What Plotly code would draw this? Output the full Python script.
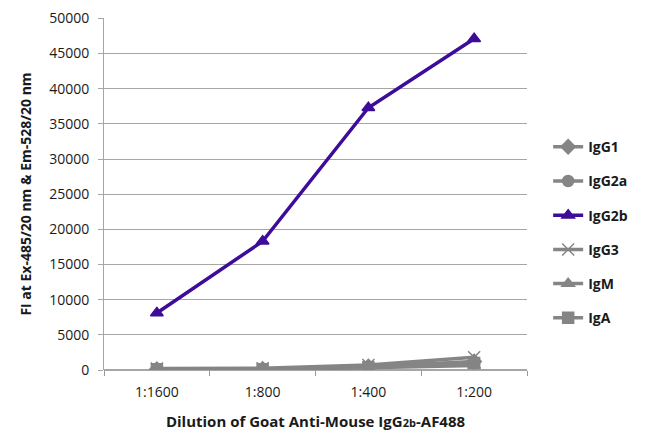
import plotly.graph_objects as go

# dilutions (x categories)
DILUTIONS = ["1:1600", "1:800", "1:400", "1:200"]

# fluorescence intensity per isotype
IGG1 = [120, 150, 500, 1200]
IGG2A = [100, 130, 420, 950]
IGG2B = [8100, 18300, 37300, 47100]
IGG3 = [220, 260, 700, 1800]
IGM = [60, 90, 320, 650]
IGA = [90, 110, 380, 1000]

GRAY = "#858585"
PURPLE = "#3D0C99"

series = [
    ("IgG1", IGG1, GRAY, "diamond"),
    ("IgG2a", IGG2A, GRAY, "circle"),
    ("IgG2b", IGG2B, PURPLE, "triangle-up"),
    ("IgG3", IGG3, GRAY, "x-thin"),
    ("IgM", IGM, GRAY, "triangle-up"),
    ("IgA", IGA, GRAY, "square"),
]

fig = go.Figure()
for name, vals, col, sym in series:
    fig.add_scatter(
        x=DILUTIONS, y=vals, name=name, mode="lines+markers", legendgroup=name,
        line=dict(color=col, width=3.5),
        marker=dict(symbol=sym, size=11 if sym != "x-thin" else 12, color=col,
                    line=dict(color=col, width=1.5)),
    )

fig.update_layout(
    width=650, height=447,
    plot_bgcolor="white", paper_bgcolor="white",
    margin=dict(l=96, r=131, t=10, b=85, autoexpand=False),
    font=dict(family="Open Sans, sans-serif", color="#1a1a1a"),
    legend=dict(
        x=1.05, y=0.39, xanchor="left", yanchor="middle",
        font=dict(size=14, color="#1a1a1a", family="Open Sans, sans-serif", weight="bold"),
        tracegroupgap=13, itemwidth=30,
    ),
    xaxis=dict(
        range=[-0.5, len(DILUTIONS) - 0.5],
        showgrid=False, showline=False, tickson="boundaries", automargin=False,
        ticks="outside", ticklen=5, tickcolor="#999999",
        tickfont=dict(size=14), ticklabelstandoff=12,
        title=dict(text='<b>Dilution of Goat Anti-Mouse IgG<span style="font-size:11px">2b</span>-AF488</b>',
                   font=dict(size=15), standoff=16),
    ),
    yaxis=dict(
        range=[0, 50060], tick0=0, dtick=5000, showgrid=True, gridcolor="#a6a6a6", gridwidth=1,
        showline=True, linecolor="#a6a6a6", ticks="outside", ticklen=5, tickcolor="#a6a6a6",
        zeroline=True, zerolinecolor="#a6a6a6", tickfont=dict(size=14), tickformat="d",
        ticklabelstandoff=6, automargin=False, ticklabeloverflow="allow",
        title=dict(text="<b>FI at Ex-485/20 nm & Em-528/20 nm</b>", font=dict(size=14), standoff=14),
    ),
)

fig.write_html("out.html")
